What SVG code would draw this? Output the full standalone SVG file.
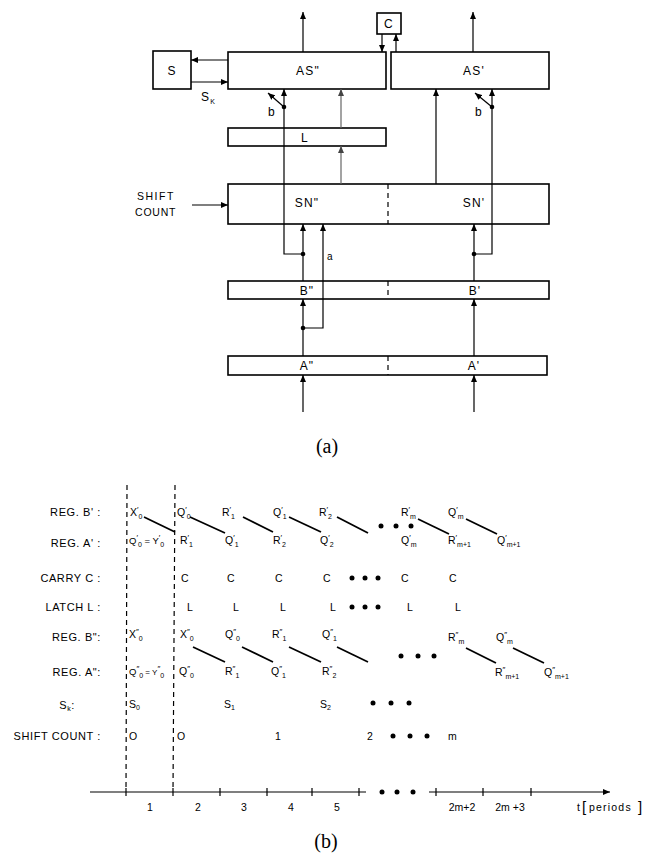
<svg xmlns="http://www.w3.org/2000/svg" width="650" height="858" viewBox="0 0 650 858">
<style>
.box{fill:#fff;stroke:#000;stroke-width:1.6}
.ln{fill:none;stroke:#000;stroke-width:1.2}
.gl{fill:none;stroke:#666;stroke-width:1.2}
.dsh{fill:none;stroke:#000;stroke-width:1.2;stroke-dasharray:5 4}
.dg{fill:none;stroke:#000;stroke-width:1.8}
.t{font-family:"Liberation Sans",Arial,sans-serif;font-size:12px;letter-spacing:1.2px;fill:#000}
.lb{font-family:"Liberation Sans",Arial,sans-serif;font-size:11px;letter-spacing:0.6px;fill:#000}
.r{font-family:"Liberation Sans",Arial,sans-serif;font-size:10.5px;fill:#000}
.sp{font-size:8px}
.sb{font-size:7px}
.cap{font-family:"Liberation Serif","Times New Roman",serif;font-size:20px;fill:#000}
.dot{fill:#000}
</style>
<defs>
<marker id="ah" markerUnits="userSpaceOnUse" markerWidth="8" markerHeight="6" refX="7" refY="3" orient="auto">
<path d="M0,0 L7,3 L0,6 z" fill="#000"/>
</marker>
<marker id="ahg" markerUnits="userSpaceOnUse" markerWidth="8" markerHeight="6" refX="7" refY="3" orient="auto">
<path d="M0,0 L7,3 L0,6 z" fill="#444"/>
</marker>
</defs>

<!-- (a) block diagram nodes -->
<g id="S"><rect class="box" x="153" y="51" width="38" height="38"/><text class="t" x="172" y="75" text-anchor="middle">S</text></g>
<g id="ASpp"><rect class="box" x="228" y="52" width="158" height="37"/><text class="t" x="308" y="75" text-anchor="middle">AS"</text></g>
<g id="ASp"><rect class="box" x="391" y="52" width="158" height="37"/><text class="t" x="474" y="75" text-anchor="middle">AS'</text></g>
<g id="C"><rect class="box" x="377" y="13" width="24" height="21"/><text class="t" x="389" y="28" text-anchor="middle">C</text></g>
<g id="L"><rect class="box" x="228" y="128" width="158" height="18"/><text class="t" x="305" y="142" text-anchor="middle">L</text></g>
<g id="SN"><rect class="box" x="228" y="184" width="321" height="40"/><line class="dsh" x1="388" y1="184" x2="388" y2="224"/><text class="t" x="307" y="207" text-anchor="middle">SN"</text><text class="t" x="474" y="207" text-anchor="middle">SN'</text></g>
<g id="B"><rect class="box" x="228" y="281" width="321" height="18"/><line class="dsh" x1="388" y1="281" x2="388" y2="299"/><text class="t" x="307" y="295" text-anchor="middle">B"</text><text class="t" x="475" y="295" text-anchor="middle">B'</text></g>
<g id="A"><rect class="box" x="228" y="356" width="319" height="19"/><line class="dsh" x1="388" y1="356" x2="388" y2="375"/><text class="t" x="307" y="370" text-anchor="middle">A"</text><text class="t" x="474" y="370" text-anchor="middle">A'</text></g>
<g id="labels-a">
<text class="t" x="201" y="101">S<tspan class="sb" dy="3">K</tspan></text>
<text class="t" x="268" y="116">b</text>
<text class="t" x="475" y="116">b</text>
<text class="t" x="327" y="260" style="font-size:10px">a</text>
<text class="t" style="font-size:10.5px;letter-spacing:1.5px" x="137" y="200">SHIFT</text>
<text class="t" style="font-size:10.5px;letter-spacing:0.8px" x="135" y="216">COUNT</text>
<text class="cap" x="327" y="453" text-anchor="middle">(a)</text>
</g>

<!-- connectors -->
<g id="connectors">
<line class="ln" x1="303" y1="52" x2="303" y2="12" marker-end="url(#ah)"/>
<line class="ln" x1="473" y1="52" x2="473" y2="12" marker-end="url(#ah)"/>
<line class="ln" x1="382" y1="34" x2="382" y2="52" marker-end="url(#ah)"/>
<line class="ln" x1="396" y1="52" x2="396" y2="34" marker-end="url(#ah)"/>
<line class="ln" x1="228" y1="60" x2="191" y2="60" marker-end="url(#ah)"/>
<line class="ln" x1="191" y1="82" x2="228" y2="82" marker-end="url(#ah)"/>
<polyline class="ln" points="303,254 284,254 284,89" marker-end="url(#ah)"/>
<line class="ln" x1="284" y1="107" x2="268" y2="93" marker-end="url(#ah)"/>
<line class="gl" x1="341" y1="128" x2="341" y2="89" marker-end="url(#ahg)"/>
<line class="gl" x1="341" y1="184" x2="341" y2="146" marker-end="url(#ahg)"/>
<line class="ln" x1="436" y1="184" x2="436" y2="89" marker-end="url(#ah)"/>
<polyline class="ln" points="474,254 492,254 492,89" marker-end="url(#ah)"/>
<line class="ln" x1="492" y1="107" x2="475" y2="93" marker-end="url(#ah)"/>
<line class="ln" x1="192" y1="205" x2="228" y2="205" marker-end="url(#ah)"/>
<line class="ln" x1="303" y1="281" x2="303" y2="224" marker-end="url(#ah)"/>
<polyline class="ln" points="303,328 323,328 323,224" marker-end="url(#ah)"/>
<line class="ln" x1="474" y1="281" x2="474" y2="224" marker-end="url(#ah)"/>
<line class="ln" x1="303" y1="356" x2="303" y2="299" marker-end="url(#ah)"/>
<line class="ln" x1="474" y1="356" x2="474" y2="299" marker-end="url(#ah)"/>
<line class="ln" x1="303" y1="412" x2="303" y2="375" marker-end="url(#ah)"/>
<line class="ln" x1="474" y1="412" x2="474" y2="375" marker-end="url(#ah)"/>
<circle class="dot" cx="303" cy="254" r="2.3"/>
<circle class="dot" cx="284" cy="107" r="2.3"/>
<circle class="dot" cx="474" cy="254" r="2.3"/>
<circle class="dot" cx="492" cy="107" r="2.3"/>
<circle class="dot" cx="303" cy="328" r="2.3"/>
</g>

<!-- (b) timing diagram -->
<g id="timing">
<line class="dsh" x1="127" y1="485" x2="126" y2="791"/>
<line class="dsh" x1="175" y1="485" x2="173" y2="791"/>
<line class="ln" x1="90" y1="792" x2="366" y2="792"/>
<line class="ln" x1="429" y1="792" x2="610" y2="792" marker-end="url(#ah)"/>
<g class="ln">
<line x1="126" y1="788" x2="126" y2="796"/><line x1="173" y1="788" x2="173" y2="796"/><line x1="220" y1="788" x2="220" y2="796"/><line x1="267" y1="788" x2="267" y2="796"/><line x1="312" y1="788" x2="312" y2="796"/><line x1="359" y1="788" x2="359" y2="796"/><line x1="436" y1="788" x2="436" y2="796"/><line x1="483" y1="788" x2="483" y2="796"/><line x1="531" y1="788" x2="531" y2="796"/>
</g>
<g class="r" text-anchor="middle">
<text x="150" y="811">1</text><text x="198" y="811">2</text><text x="244" y="811">3</text><text x="291" y="811">4</text><text x="337" y="811">5</text>
<text x="462" y="811">2m+2</text><text x="510" y="811">2m +3</text>
</g>
<text class="r" x="577" y="811">t</text>
<text class="r" x="582" y="812" style="font-size:15px">[</text>
<text class="r" x="589" y="811" style="letter-spacing:1.2px">periods</text>
<text class="r" x="638" y="812" style="font-size:15px">]</text>
<text class="cap" x="326" y="848" text-anchor="middle">(b)</text>

<g class="lb" text-anchor="end">
<text x="101" y="516">REG. B' :</text>
<text x="101" y="547">REG. A' :</text>
<text x="101" y="582">CARRY C :</text>
<text x="101" y="611">LATCH L :</text>
<text x="101" y="641">REG. B":</text>
<text x="101" y="676">REG. A":</text>
<text x="75" y="709">S<tspan class="sb" dy="2">k</tspan><tspan dy="-2">:</tspan></text>
<text x="101" y="740">SHIFT  COUNT :</text>
</g>

<g class="r">
<!-- row B' -->
<text x="130" y="516">X<tspan class="sp" dy="-4">′</tspan><tspan class="sb" dy="7">0</tspan></text>
<text x="177" y="516">Q<tspan class="sp" dy="-4">′</tspan><tspan class="sb" dy="7">0</tspan></text>
<text x="222" y="516">R<tspan class="sp" dy="-4">′</tspan><tspan class="sb" dy="7">1</tspan></text>
<text x="273" y="516">Q<tspan class="sp" dy="-4">′</tspan><tspan class="sb" dy="7">1</tspan></text>
<text x="319" y="516">R<tspan class="sp" dy="-4">′</tspan><tspan class="sb" dy="7">2</tspan></text>
<text x="401" y="516">R<tspan class="sp" dy="-4">′</tspan><tspan class="sb" dy="7">m</tspan></text>
<text x="448" y="516">Q<tspan class="sp" dy="-4">′</tspan><tspan class="sb" dy="7">m</tspan></text>
<!-- row A' -->
<text x="129" y="544" style="font-size:9.5px">Q<tspan class="sp" dy="-4">′</tspan><tspan class="sb" dy="7">0</tspan><tspan dy="-3"> = Y</tspan><tspan class="sp" dy="-4">′</tspan><tspan class="sb" dy="7">0</tspan></text>
<text x="180" y="544">R<tspan class="sp" dy="-4">′</tspan><tspan class="sb" dy="7">1</tspan></text>
<text x="225" y="544">Q<tspan class="sp" dy="-4">′</tspan><tspan class="sb" dy="7">1</tspan></text>
<text x="273" y="544">R<tspan class="sp" dy="-4">′</tspan><tspan class="sb" dy="7">2</tspan></text>
<text x="320" y="544">Q<tspan class="sp" dy="-4">′</tspan><tspan class="sb" dy="7">2</tspan></text>
<text x="401" y="544">Q<tspan class="sp" dy="-4">′</tspan><tspan class="sb" dy="7">m</tspan></text>
<text x="448" y="544">R<tspan class="sp" dy="-4">′</tspan><tspan class="sb" dy="7">m+1</tspan></text>
<text x="497" y="544">Q<tspan class="sp" dy="-4">′</tspan><tspan class="sb" dy="7">m+1</tspan></text>
<!-- row C -->
<text x="181" y="582">C</text><text x="227" y="582">C</text><text x="275" y="582">C</text><text x="323" y="582">C</text><text x="401" y="582">C</text><text x="449" y="582">C</text>
<!-- row L -->
<text x="187" y="611">L</text><text x="233" y="611">L</text><text x="280" y="611">L</text><text x="330" y="611">L</text><text x="407" y="611">L</text><text x="455" y="611">L</text>
<!-- row B'' -->
<text x="129" y="638">X<tspan class="sp" dy="-4">″</tspan><tspan class="sb" dy="7">0</tspan></text>
<text x="180" y="638">X<tspan class="sp" dy="-4">″</tspan><tspan class="sb" dy="7">0</tspan></text>
<text x="225" y="638">Q<tspan class="sp" dy="-4">″</tspan><tspan class="sb" dy="7">0</tspan></text>
<text x="272" y="638">R<tspan class="sp" dy="-4">″</tspan><tspan class="sb" dy="7">1</tspan></text>
<text x="322" y="638">Q<tspan class="sp" dy="-4">″</tspan><tspan class="sb" dy="7">1</tspan></text>
<text x="448" y="641">R<tspan class="sp" dy="-4">″</tspan><tspan class="sb" dy="7">m</tspan></text>
<text x="496" y="641">Q<tspan class="sp" dy="-4">″</tspan><tspan class="sb" dy="7">m</tspan></text>
<!-- row A'' -->
<text x="129" y="675" style="font-size:9.5px">Q<tspan class="sp" dy="-4">″</tspan><tspan class="sb" dy="7">0</tspan><tspan dy="-3" style="font-size:8px"> = Y</tspan><tspan class="sp" dy="-4">″</tspan><tspan class="sb" dy="7">0</tspan></text>
<text x="179" y="675">Q<tspan class="sp" dy="-4">″</tspan><tspan class="sb" dy="7">0</tspan></text>
<text x="225" y="675">R<tspan class="sp" dy="-4">″</tspan><tspan class="sb" dy="7">1</tspan></text>
<text x="271" y="675">Q<tspan class="sp" dy="-4">″</tspan><tspan class="sb" dy="7">1</tspan></text>
<text x="322" y="675">R<tspan class="sp" dy="-4">″</tspan><tspan class="sb" dy="7">2</tspan></text>
<text x="495" y="676">R<tspan class="sp" dy="-4">″</tspan><tspan class="sb" dy="7">m+1</tspan></text>
<text x="544" y="676">Q<tspan class="sp" dy="-4">″</tspan><tspan class="sb" dy="7">m+1</tspan></text>
<!-- row Sk -->
<text x="129" y="708">S<tspan class="sb" dy="2">0</tspan></text>
<text x="224" y="708">S<tspan class="sb" dy="2">1</tspan></text>
<text x="320" y="708">S<tspan class="sb" dy="2">2</tspan></text>
<!-- row shift count -->
<text x="129" y="740">O</text><text x="177" y="740">O</text><text x="275" y="740">1</text><text x="367" y="740">2</text><text x="448" y="740">m</text>
</g>

<g class="dg">
<line x1="144" y1="517" x2="175" y2="532"/>
<line x1="190" y1="517" x2="225" y2="533"/>
<line x1="243" y1="517" x2="273" y2="532"/>
<line x1="289" y1="517" x2="321" y2="532"/>
<line x1="337" y1="517" x2="368" y2="533"/>
<line x1="418" y1="519" x2="449" y2="534"/>
<line x1="466" y1="519" x2="497" y2="534"/>
<line x1="193" y1="647" x2="225" y2="662"/>
<line x1="242" y1="647" x2="273" y2="662"/>
<line x1="289" y1="647" x2="321" y2="662"/>
<line x1="337" y1="647" x2="368" y2="662"/>
<line x1="466" y1="648" x2="496" y2="663"/>
<line x1="513" y1="648" x2="544" y2="663"/>
</g>

<g class="dot">
<circle cx="381" cy="526" r="2.5"/><circle cx="396" cy="526" r="2.5"/><circle cx="411" cy="526" r="2.5"/>
<circle cx="352" cy="578" r="2.5"/><circle cx="365" cy="578" r="2.5"/><circle cx="378" cy="578" r="2.5"/>
<circle cx="352" cy="607" r="2.5"/><circle cx="365" cy="607" r="2.5"/><circle cx="378" cy="607" r="2.5"/>
<circle cx="401" cy="656" r="2.5"/><circle cx="418" cy="656" r="2.5"/><circle cx="434" cy="656" r="2.5"/>
<circle cx="373" cy="703" r="2.5"/><circle cx="391" cy="703" r="2.5"/><circle cx="409" cy="703" r="2.5"/>
<circle cx="393" cy="736" r="2.5"/><circle cx="410" cy="736" r="2.5"/><circle cx="427" cy="736" r="2.5"/>
<circle cx="382" cy="792" r="2.5"/><circle cx="397" cy="792" r="2.5"/><circle cx="413" cy="792" r="2.5"/>
</g>
</g>
</svg>
